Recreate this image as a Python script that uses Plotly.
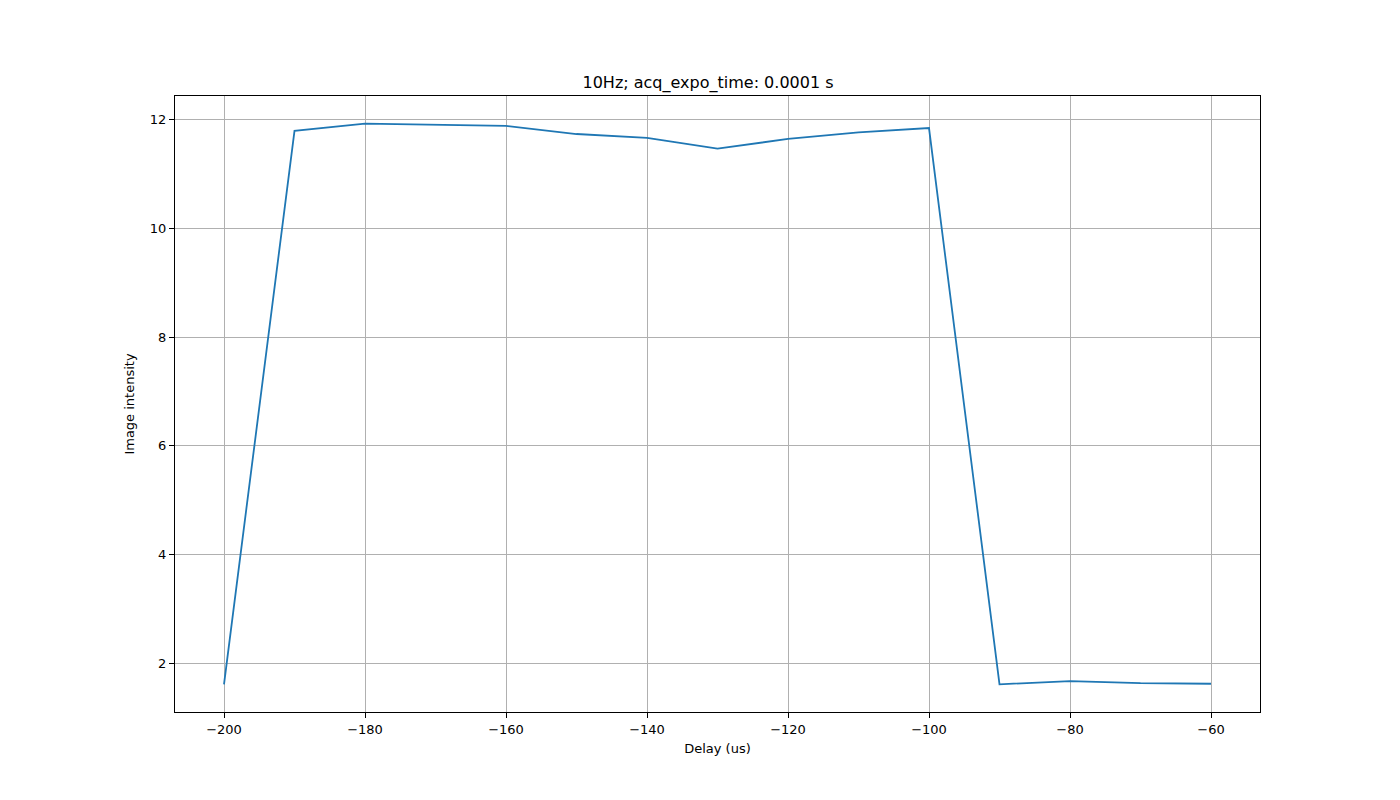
import plotly.graph_objects as go

delay_us = [-200, -190, -180, -170, -160, -150, -140, -130, -120, -110, -100, -90, -80, -70, -60]
intensity = [1.61, 11.80, 11.93, 11.91, 11.89, 11.74, 11.67, 11.47, 11.65, 11.77, 11.85, 1.61, 1.67, 1.63, 1.62]

x_ticks = [-200, -180, -160, -140, -120, -100, -80, -60]
y_ticks = [2, 4, 6, 8, 10, 12]

fig = go.Figure()
fig.add_trace(go.Scatter(x=delay_us, y=intensity, mode="lines",
                         line=dict(color="#1f77b4", width=1.8)))

axis_style = dict(showline=True, linecolor="black", linewidth=1, mirror=True,
                  showgrid=True, gridcolor="#b0b0b0", gridwidth=1,
                  ticks="outside", ticklen=5, tickcolor="black", zeroline=False,
                  tickfont=dict(size=13, color="black"))

# page body has an 8px margin, so offsets are shifted to land where the reference is
fig.update_layout(
    width=1400, height=800,
    paper_bgcolor="white", plot_bgcolor="white",
    margin=dict(l=167, r=148, t=88, b=96),
    showlegend=False,
    font=dict(family="DejaVu Sans", size=13, color="black"),
    title=dict(text="10Hz; acq_expo_time: 0.0001 s", x=0.5, xanchor="center",
               y=1 - 74 / 800, yanchor="middle", font=dict(size=16)),
    xaxis=dict(axis_style, range=[-206.95, -53.05], tickvals=x_ticks,
               ticktext=[f"\u2212{abs(v)}" for v in x_ticks],
               title=dict(text="Delay (us)", font=dict(size=13), standoff=8)),
    yaxis=dict(axis_style, range=[1.10, 12.44], tickvals=y_ticks,
               title=dict(text="Image intensity", font=dict(size=13), standoff=12)),
)

fig.write_html("out.html")
